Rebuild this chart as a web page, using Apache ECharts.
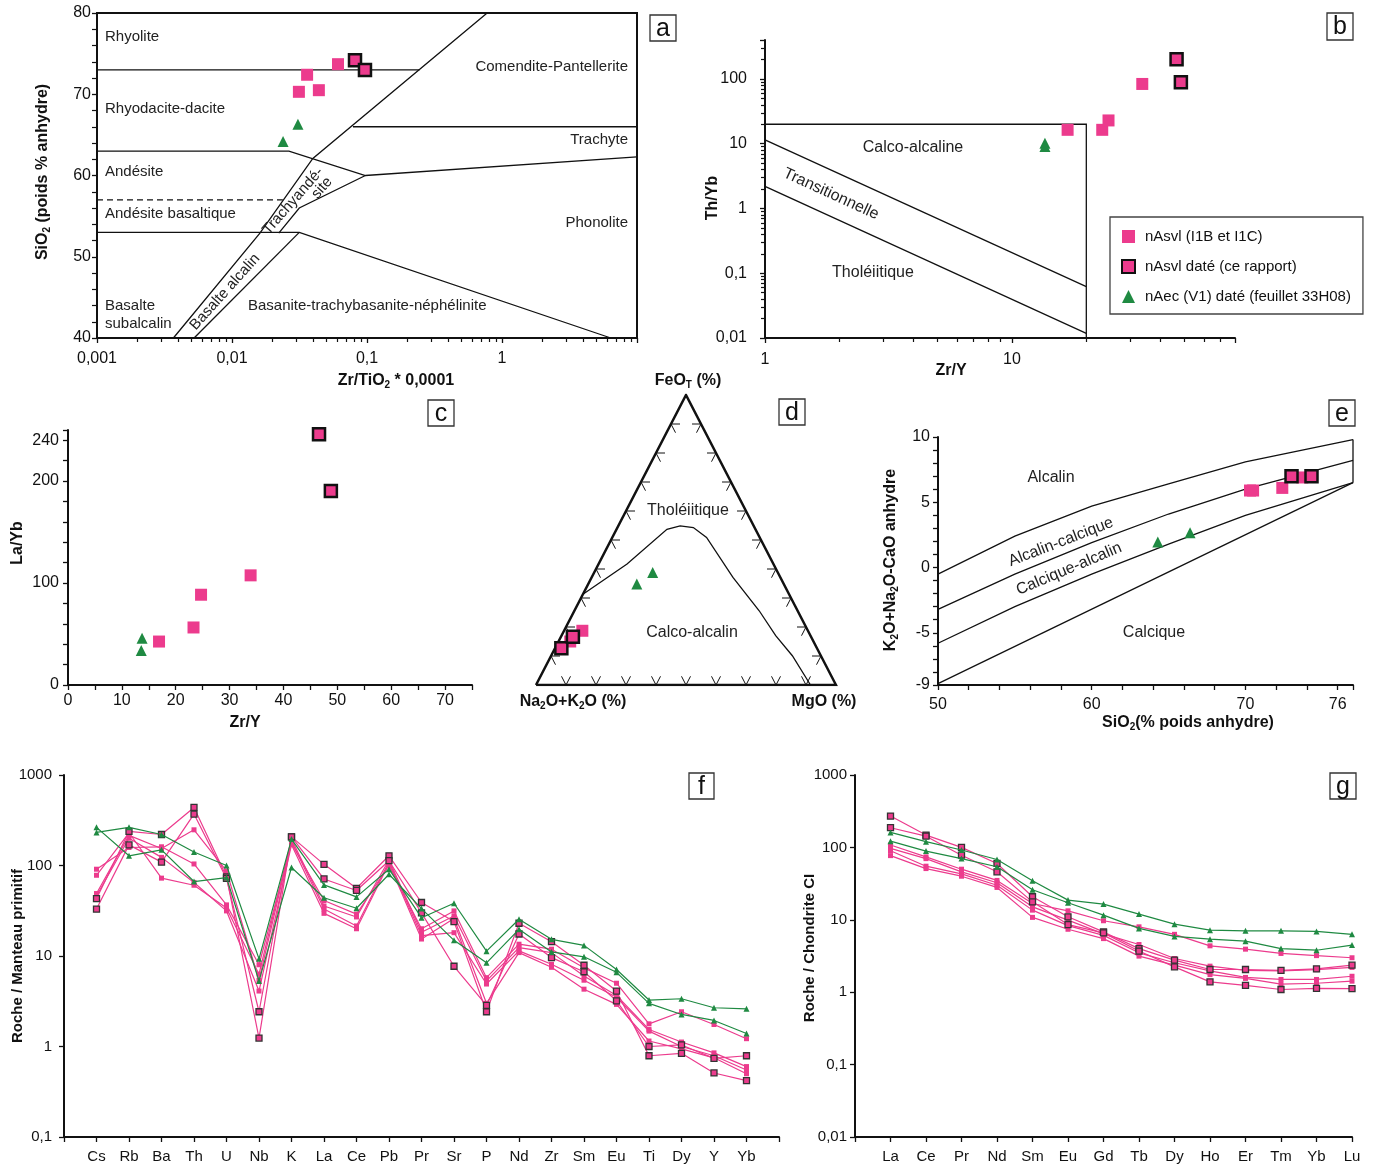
<!DOCTYPE html>
<html>
<head>
<meta charset="utf-8">
<script src="https://cdn.jsdelivr.net/npm/echarts@6/dist/echarts.min.js"></script>
<style>
  html, body { margin: 0; padding: 0; background: #fff; }
  #chart { width: 1377px; height: 1168px; }
</style>
</head>
<body>
<div id="chart"></div>
<script>
var PINK = "#ec3b8d";
var GREEN = "#1f8a42";
var FONT = "Liberation Sans, Arial, sans-serif";
var NAME_P = "nAsvl (I1B et I1C)";
var NAME_D = "nAsvl daté (ce rapport)";
var NAME_G = "nAec (V1) daté (feuillet 33H08)";

// a : Zr/TiO2*0.0001 vs SiO2
var aPink = [[0.036, 72.4], [0.0313, 70.3], [0.044, 70.5], [0.061, 73.7]];
var aDated = [[0.0815, 74.2], [0.0966, 73.0]];
var aGreen = [[0.0308, 66.3], [0.0239, 64.2]];
var aFields = [
  [[0.001, 73], [0.245, 73]],
  [[0.776, 80], [0.0397, 62.1], [0.0161, 52.9], [0.00368, 40]],
  [[0.001, 63], [0.0264, 63], [0.0973, 60], [10, 62.3]],
  [[0.0787, 66], [10, 66]],
  [[0.0222, 52.9], [0.0315, 56], [0.0973, 60]],
  [[0.001, 53], [0.0315, 53], [6.4, 40]],
  [[0.00524, 40], [0.0315, 53]]
];
var aDashed = [[0.001, 57], [0.0238, 57]];

// b : Zr/Y vs Th/Yb
var bPink = [[16.8, 16.4], [23.2, 16.4], [24.6, 22.9], [33.7, 83.8]];
var bDated = [[46.4, 201], [48.3, 88.9]];
var bGreen = [[13.6, 10.2], [13.6, 9.1]];
var bFields = [
  [[1, 20], [20, 20], [20, 0.01]],
  [[1, 11.5], [20, 0.062]],
  [[1, 2.2], [20, 0.0118]]
];

// c : Zr/Y vs La/Yb
var cPink = [[16.9, 42.6], [23.3, 56.4], [24.7, 88.5], [33.9, 107.5]];
var cDated = [[46.6, 245.9], [48.8, 190.2]];
var cGreen = [[13.75, 45.9], [13.6, 33.8]];

// d : AFM, [FeOt %, MgO %]
var dPink = [[18.7, 6.1], [15.0, 3.9]];
var dDated = [[12.7, 2.1], [16.6, 4.0]];
var dGreen = [[34.8, 16.2], [38.8, 19.5]];
var dBoundary = [[31.3, 0], [41.7, 9.5], [53.7, 16.8], [54.9, 20.6], [54.3, 25.3], [50.9, 31.4],
  [37.1, 47.1], [25.6, 61.6], [17, 71.4], [10.1, 80.4], [0, 91.5]];

// e : SiO2 vs MALI
var ePink = [[70.5, 5.9], [70.3, 5.9], [72.4, 6.1], [73.7, 6.9]];
var eDated = [[73.0, 7.0], [74.3, 7.0]];
var eGreen = [[64.3, 1.95], [66.4, 2.66]];
var eSiO2 = [50, 55, 60, 65, 70, 77];
var eAlkalic = [-0.5, 2.4, 4.7, 6.4, 8.1, 9.8];
var eAlkCalc = [-3.2, -0.5, 1.9, 4.1, 6.0, 8.2];
var eCalcAlk = [-5.8, -3.0, -0.5, 1.8, 4.0, 6.5];
var eOther = [
  [[50, -8.9], [77, 6.5]],
  [[77, 9.8], [77, 6.5]]
];

// f : multi-element spider, primitive mantle
var fElements = ["Cs", "Rb", "Ba", "Th", "U", "Nb", "K", "La", "Ce", "Pb", "Pr", "Sr", "P", "Nd", "Zr", "Sm", "Eu", "Ti", "Dy", "Y", "Yb"];
var fPink = [
  [91, 158, 161, 104, 36.7, 8.0, 175, 41, 29, 100, 20, 31.5, 5.76, 13.5, 11.9, 7.4, 5.0, 1.78, 2.42, 1.75, 1.22],
  [78, 230, 72.5, 60.5, 33.9, 6.3, 196, 35.7, 27, 115, 18.3, 27.7, 5.3, 12.4, 10.9, 6.0, 3.67, 1.54, 1.12, 0.85, 0.6],
  [49, 215, 154, 248, 87, 5.4, 185, 33, 21.5, 110, 16.8, 18.1, 4.9, 11.4, 8.1, 5.4, 3.5, 1.48, 1.0, 0.79, 0.55],
  [46, 200, 123, 65, 31.5, 4.1, 170, 29.6, 20, 105, 15.4, 26, 3.0, 10.9, 7.5, 4.3, 2.92, 1.15, 0.94, 0.75, 0.5]
];
var fDated = [
  [43, 238, 220, 438, 75, 1.24, 207, 103, 56, 128, 39, 24, 2.42, 23, 14.4, 7.9, 4.1, 0.79, 0.84, 0.51, 0.42],
  [33, 169, 109, 370, 72, 2.42, 207, 71, 53, 113, 30, 7.7, 2.84, 17.5, 9.6, 6.7, 3.2, 1.0, 1.04, 0.74, 0.79]
];
var fGreen = [
  [264, 128, 149, 66.5, 73.6, 5.3, 95, 44, 33.7, 80, 33.4, 14.9, 8.4, 19.7, 11.1, 9.8, 6.6, 3.0, 2.26, 1.94, 1.39],
  [232, 264, 220, 141, 100, 9.3, 196, 61, 45, 91, 26.5, 38.3, 11.3, 25.5, 15.3, 13.1, 7.1, 3.26, 3.37, 2.68, 2.61]
];

// g : REE, chondrite CI
var gElements = ["La", "Ce", "Pr", "Nd", "Sm", "Eu", "Gd", "Tb", "Dy", "Ho", "Er", "Tm", "Yb", "Lu"];
var gPink = [
  [108, 74, 50, 35, 16.8, 13.3, 9.7, 8.0, 6.3, 4.37, 3.93, 3.43, 3.2, 2.99],
  [97, 70, 46, 32.5, 15.1, 9.9, 6.4, 4.56, 2.92, 2.29, 2.0, 1.97, 2.05, 2.2],
  [90, 55, 43, 30, 13.6, 8.3, 6.1, 3.5, 2.55, 1.97, 1.6, 1.5, 1.5, 1.66],
  [77, 51, 40, 28, 10.8, 7.4, 5.5, 3.15, 2.36, 1.75, 1.55, 1.29, 1.33, 1.42]
];
var gDated = [
  [271, 148, 100, 60, 20.8, 11.0, 6.8, 4.0, 2.77, 2.06, 2.06, 2.0, 2.1, 2.36],
  [187, 143, 78, 46, 17.7, 8.6, 6.6, 3.7, 2.24, 1.39, 1.24, 1.09, 1.13, 1.12]
];
var gGreen = [
  [161, 120, 92, 68, 34.6, 18.7, 16.5, 12, 8.7, 7.2, 7.05, 7.05, 6.9, 6.3],
  [122, 89, 70, 54, 26, 17.2, 11.6, 7.6, 5.9, 5.4, 5.07, 4.0, 3.8, 4.47]
];

var myChart = echarts.init(document.getElementById("chart"));

function comma(v) { return String(v).replace(".", ","); }
function isPow10(v) { var l = Math.log10(v); return Math.abs(l - Math.round(l)) < 1e-6; }
function tern(p) { return [p[1] + p[0] / 2, p[0]]; }   // [FeOt, MgO] -> plot x,y

function ax(extra) {
  var base = {
    axisLine: { show: true, onZero: false, lineStyle: { color: "#111", width: 2 } },
    axisTick: { show: true, length: 5, lineStyle: { color: "#111", width: 1.3 } },
    axisLabel: { color: "#111", fontSize: 16, fontFamily: FONT },
    splitLine: { show: false }
  };
  return echarts.util.merge(base, extra, true);
}

var STYLE = {
  p: { symbol: "rect", symbolSize: 12, itemStyle: { color: PINK, opacity: 1 } },
  d: { symbol: "rect", symbolSize: 12, itemStyle: { color: PINK, opacity: 1, borderColor: "#111", borderWidth: 2.5 } },
  g: { symbol: "triangle", symbolSize: 11, itemStyle: { color: GREEN, opacity: 1 } }
};
function pts(name, kind, data, idx) {
  var s = STYLE[kind];
  return { name: name, type: "scatter", xAxisIndex: idx, yAxisIndex: idx, data: data,
    symbol: s.symbol, symbolSize: s.symbolSize, itemStyle: s.itemStyle, z: 5 };
}
function fields(list, idx, dashed) {
  return { type: "lines", coordinateSystem: "cartesian2d", xAxisIndex: idx, yAxisIndex: idx,
    polyline: true, silent: true, z: 3,
    lineStyle: { color: "#111", width: 1.3, opacity: 1, type: dashed ? [6, 4] : "solid" },
    data: list.map(function (c) { return { coords: c }; }) };
}
function spider(rows, kind, idx, tag) {
  var line = kind === "g" ? GREEN : PINK;
  var st = {
    p: { symbol: "rect", size: 5, item: { color: PINK, opacity: 1 } },
    d: { symbol: "rect", size: 6, item: { color: PINK, opacity: 1, borderColor: "#333", borderWidth: 1.3 } },
    g: { symbol: "triangle", size: 6, item: { color: GREEN, opacity: 1 } }
  }[kind];
  return rows.map(function (r, i) {
    return { name: tag + kind + i, type: "line", xAxisIndex: idx, yAxisIndex: idx,
      data: ["-"].concat(r), symbol: st.symbol, symbolSize: st.size, showAllSymbol: true,
      lineStyle: { color: line, width: 1.2 }, itemStyle: st.item, z: kind === "g" ? 6 : 5 };
  });
}

// ternary frame and ticks
var dFrame = [[[0, 0], [100, 0], [50, 100], [0, 0]]];
var dTicks = [];
var TL = 3;
for (var i = 1; i < 10; i++) {
  var p = i * 10;
  dTicks.push([[p - TL / 2, TL], [p, 0], [p + TL / 2, TL]]);
  dTicks.push([[p / 2 + TL, p], [p / 2, p], [p / 2 + TL / 2, p - TL]]);
  dTicks.push([[100 - p / 2 - TL, p], [100 - p / 2, p], [100 - p / 2 - TL / 2, p - TL]]);
}

function rich(size) {
  return {
    b: { fontSize: size, fontWeight: "bold", fontFamily: FONT, fill: "#111", color: "#111", lineHeight: size + 3 },
    s: { fontSize: 10, fontWeight: "bold", fontFamily: FONT, fill: "#111", color: "#111", lineHeight: 10, verticalAlign: "bottom" }
  };
}
function title(x, y, text, rot, size) {
  return { type: "text", x: x, y: y, rotation: rot || 0, z: 100,
    style: { text: text, rich: rich(size || 16), align: "center", verticalAlign: "middle",
      textAlign: "center", textVerticalAlign: "middle" } };
}
function note(x, y, text, align, rot, size) {
  return { type: "text", x: x, y: y, rotation: rot || 0, z: 100,
    style: { text: text, fill: "#222", fontSize: size || 15, fontFamily: FONT,
      align: align || "center", textAlign: align || "center",
      verticalAlign: "middle", textVerticalAlign: "middle" } };
}
function letter(x, y, w, h, t) {
  return [
    { type: "rect", z: 100, shape: { x: x, y: y, width: w, height: h },
      style: { fill: "#fff", stroke: "#333", lineWidth: 1.3 } },
    { type: "text", z: 101, x: x + w / 2, y: y + h / 2 + 1,
      style: { text: t, fill: "#111", fontSize: 25, fontFamily: FONT,
        align: "center", textAlign: "center", verticalAlign: "middle", textVerticalAlign: "middle" } }
  ];
}

var graphics = [].concat(
  letter(650, 15, 26, 26, "a"), letter(1327, 13, 26, 27, "b"), letter(428, 400, 26, 26, "c"),
  letter(779, 399, 26, 26, "d"), letter(1329, 400, 26, 26, "e"), letter(689, 773, 25, 26, "f"),
  letter(1330, 773, 26, 26, "g"),
  [
    title(43, 172, "{b|SiO}{s|2}{b| (poids % anhydre)}", Math.PI / 2),
    title(396, 381, "{b|Zr/TiO}{s|2}{b| * 0,0001}"),
    title(713, 198, "{b|Th/Yb}", Math.PI / 2),
    title(951, 371, "{b|Zr/Y}"),
    title(18, 543, "{b|La/Yb}", Math.PI / 2),
    title(245, 723, "{b|Zr/Y}"),
    title(688, 381, "{b|FeO}{s|T}{b| (%)}"),
    title(573, 702, "{b|Na}{s|2}{b|O+K}{s|2}{b|O (%)}"),
    title(824, 702, "{b|MgO (%)}"),
    title(891, 560, "{b|K}{s|2}{b|O+Na}{s|2}{b|O-CaO anhydre}", Math.PI / 2),
    title(1188, 723, "{b|SiO}{s|2}{b|(% poids anhydre)}"),
    title(18, 956, "{b|Roche / Manteau primitif}", Math.PI / 2, 15),
    title(810, 948, "{b|Roche / Chondrite CI}", Math.PI / 2, 15),

    note(105, 37, "Rhyolite", "left"),
    note(105, 109, "Rhyodacite-dacite", "left"),
    note(105, 172, "Andésite", "left"),
    note(105, 214, "Andésite basaltique", "left"),
    note(105, 306, "Basalte", "left"),
    note(105, 324, "subalcalin", "left"),
    note(628, 67, "Comendite-Pantellerite", "right"),
    note(628, 140, "Trachyte", "right"),
    note(628, 223, "Phonolite", "right"),
    note(248, 306, "Basanite-trachybasanite-néphélinite", "left"),
    note(293, 201, "Trachyandé-", "center", 0.85),
    note(322, 188, "site", "center", 0.85),
    note(225, 292, "Basalte alcalin", "center", 0.84),

    note(913, 148, "Calco-alcaline", "center", 0, 16),
    note(831, 194, "Transitionnelle", "center", -0.43, 16),
    note(873, 273, "Tholéiitique", "center", 0, 16),

    note(688, 511, "Tholéiitique", "center", 0, 16),
    note(692, 633, "Calco-alcalin", "center", 0, 16),

    note(1051, 478, "Alcalin", "center", 0, 16),
    note(1061, 542, "Alcalin-calcique", "center", 0.37, 16),
    note(1069, 569, "Calcique-alcalin", "center", 0.4, 16),
    note(1154, 633, "Calcique", "center", 0, 16)
  ]
);

var option = {
  animation: false,
  backgroundColor: "#fff",
  textStyle: { fontFamily: FONT },
  grid: [
    { left: 97, top: 13, width: 540, height: 325, show: true, borderColor: "#111", borderWidth: 2 },
    { left: 765, top: 40, width: 470, height: 298 },
    { left: 68, top: 430, width: 404, height: 255 },
    { left: 536, top: 395, width: 300, height: 290 },
    { left: 938, top: 437, width: 415, height: 248 },
    { left: 64, top: 775, width: 715, height: 362 },
    { left: 855, top: 775, width: 497, height: 362 }
  ],
  xAxis: [
    ax({ gridIndex: 0, type: "log", logBase: 10, min: 0.001, max: 10,
      minorTick: { show: true, splitNumber: 9, length: 4, lineStyle: { color: "#111", width: 1.2 } },
      axisLabel: { margin: 13, formatter: function (v) { return v >= 10 ? "" : comma(v); } } }),
    ax({ gridIndex: 1, type: "log", logBase: 10, min: 1, max: 80,
      minorTick: { show: true, splitNumber: 9, length: 4, lineStyle: { color: "#111", width: 1.2 } },
      axisLabel: { margin: 14, formatter: function (v) { return (v === 1 || v === 10) ? comma(v) : ""; } } }),
    ax({ gridIndex: 2, type: "value", min: 0, max: 75, interval: 5,
      axisLabel: { margin: 8, formatter: function (v) { return v % 10 === 0 ? v : ""; } } }),
    { gridIndex: 3, type: "value", min: 0, max: 100, show: false },
    ax({ gridIndex: 4, type: "value", min: 50, max: 77, interval: 2,
      axisLabel: { margin: 12, formatter: function (v) { return [50, 60, 70, 76].indexOf(v) >= 0 ? v : ""; } } }),
    ax({ gridIndex: 5, type: "category", boundaryGap: false, data: [""].concat(fElements, [""]),
      axisTick: { interval: 0 }, axisLabel: { interval: 0, margin: 12, fontSize: 15 } }),
    ax({ gridIndex: 6, type: "category", boundaryGap: false, data: [""].concat(gElements),
      axisTick: { interval: 0 }, axisLabel: { interval: 0, margin: 12, fontSize: 15 } })
  ],
  yAxis: [
    ax({ gridIndex: 0, type: "value", min: 40, max: 80, interval: 10,
      minorTick: { show: true, splitNumber: 5, length: 5, lineStyle: { color: "#111", width: 1.2 } },
      axisLabel: { margin: 6 } }),
    ax({ gridIndex: 1, type: "log", logBase: 10, min: 0.01, max: 400,
      minorTick: { show: true, splitNumber: 9, length: 4, lineStyle: { color: "#111", width: 1.2 } },
      axisLabel: { margin: 18, formatter: function (v) { return isPow10(v) ? comma(v) : ""; } } }),
    ax({ gridIndex: 2, type: "value", min: 0, max: 250, interval: 20,
      axisLabel: { margin: 9, formatter: function (v) { return [0, 100, 200, 240].indexOf(v) >= 0 ? v : ""; } } }),
    { gridIndex: 3, type: "value", min: 0, max: 100, show: false },
    ax({ gridIndex: 4, type: "value", min: -9, max: 10, interval: 1,
      axisLabel: { margin: 8, formatter: function (v) { return [-9, -5, 0, 5, 10].indexOf(v) >= 0 ? v : ""; } } }),
    ax({ gridIndex: 5, type: "log", logBase: 10, min: 0.1, max: 1000,
      axisLabel: { margin: 12, fontSize: 15, formatter: function (v) { return comma(v); } } }),
    ax({ gridIndex: 6, type: "log", logBase: 10, min: 0.01, max: 1000,
      axisLabel: { margin: 8, fontSize: 15, formatter: function (v) { return comma(v); } } })
  ],
  legend: {
    orient: "vertical", left: 1110, top: 217,
    itemWidth: 13, itemHeight: 13, itemGap: 15,
    padding: [12, 12, 10, 11],
    borderColor: "#444", borderWidth: 1.3, backgroundColor: "#fff",
    selectedMode: false,
    textStyle: { fontFamily: FONT, fontSize: 15, color: "#111", padding: [0, 0, 0, 5] },
    data: [
      { name: NAME_P, icon: "rect" },
      { name: NAME_D, icon: "rect", itemStyle: { color: PINK, borderColor: "#111", borderWidth: 2 } },
      { name: NAME_G, icon: "triangle" }
    ]
  },
  graphic: { elements: graphics },
  series: [].concat(
    [
      pts(NAME_P, "p", aPink, 0), pts(NAME_D, "d", aDated, 0), pts(NAME_G, "g", aGreen, 0),
      fields(aFields, 0), fields([aDashed], 0, true),

      pts(NAME_P, "p", bPink, 1), pts(NAME_D, "d", bDated, 1), pts(NAME_G, "g", bGreen, 1),
      fields(bFields, 1),

      pts(NAME_P, "p", cPink, 2), pts(NAME_D, "d", cDated, 2), pts(NAME_G, "g", cGreen, 2),

      pts(NAME_P, "p", dPink.map(tern), 3), pts(NAME_D, "d", dDated.map(tern), 3), pts(NAME_G, "g", dGreen.map(tern), 3),
      fields([dBoundary.map(tern)], 3),
      {
        type: "lines", coordinateSystem: "cartesian2d", xAxisIndex: 3, yAxisIndex: 3, polyline: true, silent: true,
        lineStyle: { color: "#111", width: 2.5, opacity: 1 }, data: dFrame.map(function (c) { return { coords: c }; })
      },
      {
        type: "lines", coordinateSystem: "cartesian2d", xAxisIndex: 3, yAxisIndex: 3, polyline: true, silent: true,
        lineStyle: { color: "#111", width: 1, opacity: 1 }, data: dTicks.map(function (c) { return { coords: c }; })
      },

      pts(NAME_P, "p", ePink, 4), pts(NAME_D, "d", eDated, 4), pts(NAME_G, "g", eGreen, 4),
      fields([eAlkalic, eAlkCalc, eCalcAlk].map(function (arr) {
        return eSiO2.map(function (s, k) { return [s, arr[k]]; });
      }).concat(eOther), 4)
    ],
    spider(fPink, "p", 5, "f"), spider(fDated, "d", 5, "f"), spider(fGreen, "g", 5, "f"),
    spider(gPink, "p", 6, "g"), spider(gDated, "d", 6, "g"), spider(gGreen, "g", 6, "g")
  )
};

myChart.setOption(option);
window.addEventListener("resize", function () {
  myChart.resize();
});
</script>
</body>
</html>
